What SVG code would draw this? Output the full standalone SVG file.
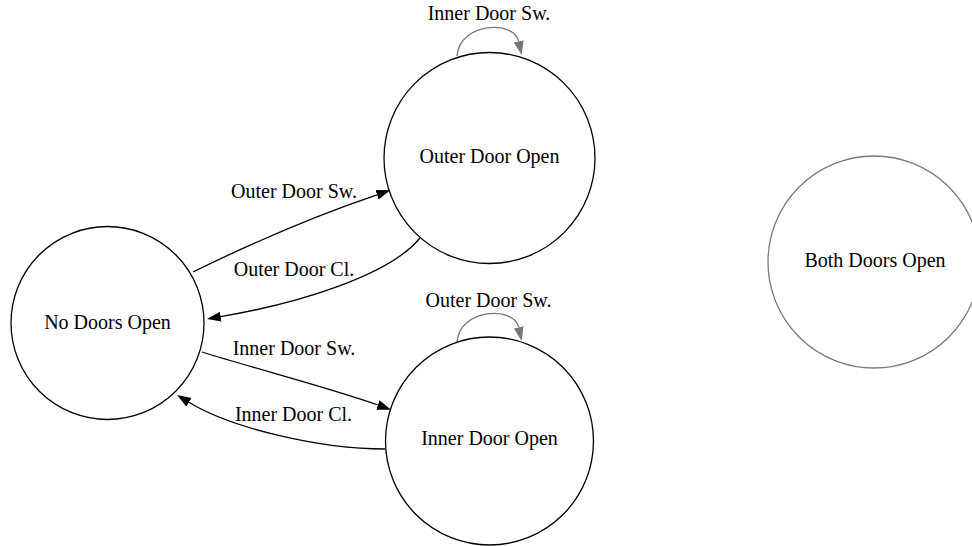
<svg xmlns="http://www.w3.org/2000/svg" width="972" height="546" viewBox="0 0 972 546">
  <style>
    .state { fill: #ffffff; stroke: #000000; stroke-width: 1.3; }
    .state.idle { stroke: #7a7a7a; }
    .label { font-family: "Liberation Serif", "Times New Roman", serif; font-size: 20px; fill: #000000; text-anchor: middle; }
    .edge { fill: none; stroke: #000000; stroke-width: 1.3; marker-end: url(#arrow); }
    .loop { fill: none; stroke: #777777; stroke-width: 1.3; marker-end: url(#arrow-grey); }
  </style>
  <defs>
    <marker id="arrow" markerUnits="userSpaceOnUse" markerWidth="15" markerHeight="11" refX="0" refY="5" orient="auto">
      <path d="M0,0 L14,5 L0,10 z" fill="#000000"/>
    </marker>
    <marker id="arrow-grey" markerUnits="userSpaceOnUse" markerWidth="15" markerHeight="11" refX="0" refY="5" orient="auto">
      <path d="M0,0 L14,5 L0,10 z" fill="#777777"/>
    </marker>
  </defs>

  <rect width="972" height="546" fill="#ffffff"/>

  <g id="connectors">
    <path class="edge" d="M193,272 C250,244 320,214 377,194.8"/>
    <path class="edge" d="M420,238 C390,275 300,303 220.8,316.6"/>
    <path class="edge" d="M202,352 C260,370 330,388 377.9,405"/>
    <path class="edge" d="M385,449 C320,449 231.4,428.3 188.9,402.3"/>
    <path class="loop" d="M457,56 C460,22 514,20 518.7,41.3"/>
    <path class="loop" d="M457,342 C460,308 514,306 518.7,327.3"/>
    <text class="label" x="294" y="198">Outer Door Sw.</text>
    <text class="label" x="294" y="276">Outer Door Cl.</text>
    <text class="label" x="294" y="355">Inner Door Sw.</text>
    <text class="label" x="293.5" y="421">Inner Door Cl.</text>
    <text class="label" x="489" y="20">Inner Door Sw.</text>
    <text class="label" x="488.5" y="306.5">Outer Door Sw.</text>
  </g>

  <g id="no-doors-open">
    <circle class="state" cx="107.5" cy="323" r="96.5"/>
    <text class="label" x="107.5" y="329">No Doors Open</text>
  </g>

  <g id="outer-door-open">
    <circle class="state" cx="489.5" cy="158" r="105.5"/>
    <text class="label" x="489.5" y="162.5">Outer Door Open</text>
  </g>

  <g id="inner-door-open">
    <circle class="state" cx="489.5" cy="441" r="104"/>
    <text class="label" x="489.5" y="445">Inner Door Open</text>
  </g>

  <g id="both-doors-open">
    <circle class="state idle" cx="874" cy="262" r="106"/>
    <text class="label" x="875" y="267">Both Doors Open</text>
  </g>
</svg>
